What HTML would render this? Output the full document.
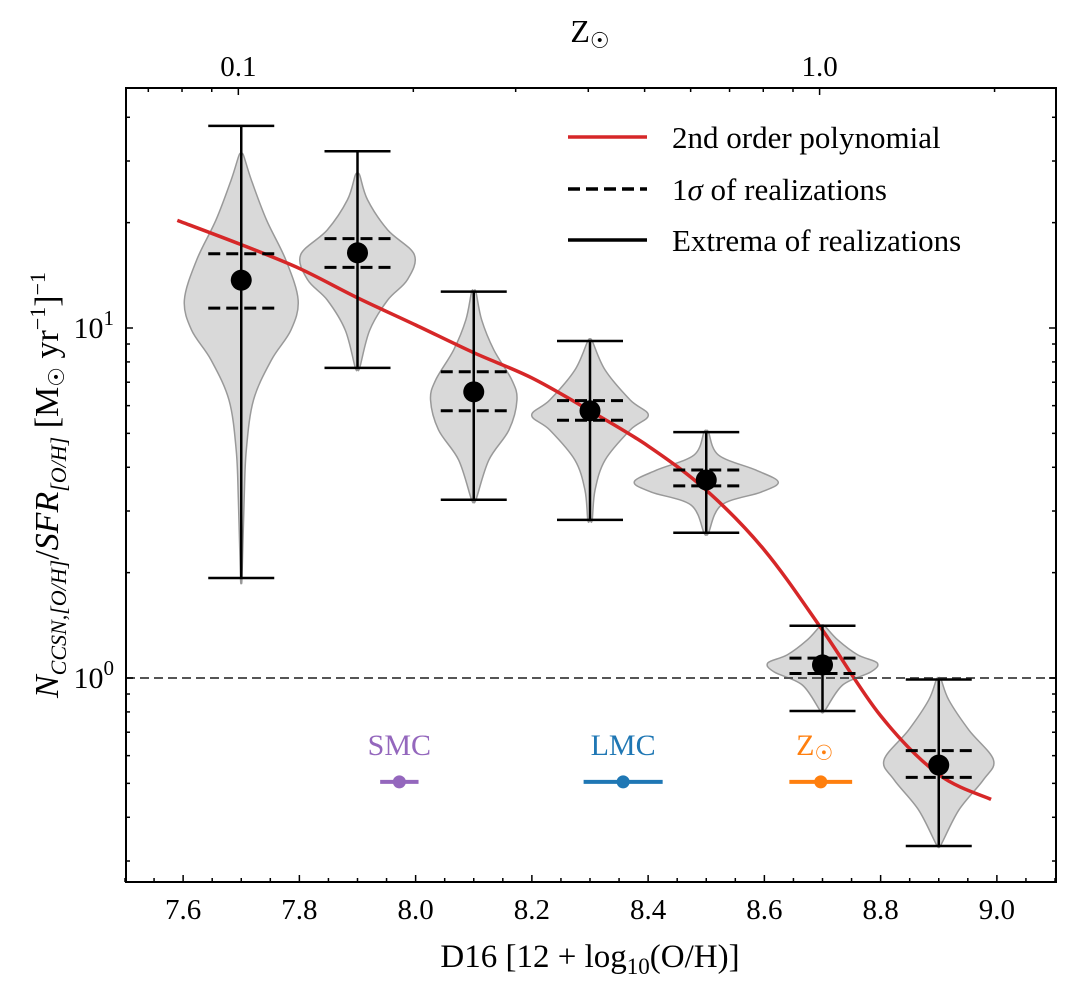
<!DOCTYPE html>
<html><head><meta charset="utf-8"><style>
html,body{margin:0;padding:0;background:#fff;}
svg{display:block;font-family:"Liberation Serif",serif;}
</style></head><body>
<svg id="chart" width="1071" height="987" viewBox="0 0 1071 987" xmlns="http://www.w3.org/2000/svg">
<g id="violins"></g>
<g id="curve"></g>
<g id="errs"></g>
<g id="refs"></g>
<g id="axes"></g>
<g>
  <line x1="568" y1="137" x2="647" y2="137" stroke="#d62728" stroke-width="3.5"/>
  <text x="672" y="148" font-size="31">2nd order polynomial</text>
  <line x1="568" y1="189" x2="647" y2="189" stroke="#000" stroke-width="3.5" stroke-dasharray="12,6"/>
  <text x="672" y="200" font-size="31">1<tspan font-style="italic">σ</tspan> of realizations</text>
  <line x1="568" y1="240" x2="647" y2="240" stroke="#000" stroke-width="3.5"/>
  <text x="672" y="251" font-size="31">Extrema of realizations</text>
</g>
<text x="590" y="967" font-size="33" text-anchor="middle">D16 [12 + log<tspan font-size="23" dy="7">10</tspan><tspan dy="-7">(O/H)]</tspan></text>
<text x="590" y="42" font-size="32" text-anchor="middle">Z<tspan font-size="22" dy="6">☉</tspan></text>
<text transform="translate(58,485) rotate(-90)" font-size="34" text-anchor="middle"><tspan font-style="italic">N</tspan><tspan font-size="22" dy="8" font-style="italic">CCSN,[O/H]</tspan><tspan dy="-8">/</tspan><tspan font-style="italic">SFR</tspan><tspan font-size="22" dy="8" font-style="italic">[O/H]</tspan><tspan dy="-8"> [M</tspan><tspan font-size="22" dy="6">☉</tspan><tspan dy="-6"> yr</tspan><tspan font-size="22" dy="-13">−1</tspan><tspan dy="13">]</tspan><tspan font-size="22" dy="-13">−1</tspan></text>
</svg>
<script>
const xs = [7.7, 7.9, 8.1, 8.3, 8.5, 8.7, 8.9];
const means = [13.7, 16.4, 6.57, 5.8, 3.68, 1.09, 0.564];
const extMax = [37.8, 32, 12.7, 9.18, 5.04, 1.41, 0.99];
const extMin = [1.93, 7.69, 3.23, 2.83, 2.6, 0.805, 0.331];
const sigHi = [16.3, 18, 7.5, 6.2, 3.93, 1.14, 0.62];
const sigLo = [11.4, 14.9, 5.8, 5.45, 3.54, 1.03, 0.52];
const violinLog = [
 [1.494,1.423,1.309,1.194,1.08,0.994,0.909,0.794,0.651,0.509,0.286],
 [1.437,1.366,1.28,1.209,1.137,1.08,0.994,0.886],
 [1.103,1.023,0.937,0.851,0.794,0.709,0.623,0.509],
 [0.963,0.88,0.794,0.751,0.709,0.623,0.537,0.451],
 [0.703,0.637,0.594,0.56,0.531,0.494,0.414],
 [0.149,0.109,0.066,0.043,0.017,-0.02,-0.094],
 [-0.003,-0.063,-0.149,-0.234,-0.291,-0.377,-0.477]];
const violinDens = [
 [0.03,0.14,0.35,0.62,0.79,0.69,0.42,0.17,0.07,0.04,0.01],
 [0.03,0.14,0.42,0.79,0.69,0.42,0.17,0.03],
 [0.03,0.11,0.28,0.53,0.6,0.49,0.21,0.03],
 [0.03,0.21,0.56,0.81,0.56,0.21,0.07,0.03],
 [0.03,0.17,0.69,1.0,0.76,0.21,0.03],
 [0.03,0.21,0.49,0.76,0.67,0.28,0.03],
 [0.03,0.14,0.42,0.76,0.62,0.28,0.03]];
const curveX = [7.59,7.7,7.8,7.9,8.0,8.1,8.2,8.3,8.4,8.5,8.6,8.7,8.8,8.9,8.99];
const curveY = [20.3,17.3,14.8,12.2,10.2,8.5,7.2,5.8,4.6,3.44,2.32,1.37,0.78,0.53,0.45];
const refNames = ["SMC","LMC","Z☉"];
const refX = [7.972, 8.357, 8.697];
const refErr = [0.033, 0.068, 0.054];
const refY = [0.505, 0.505, 0.505];
const refColors = ["#9467bd","#1f77b4","#ff7f0e"];
const xTicks = [7.6,7.8,8.0,8.2,8.4,8.6,8.8,9.0];
const xTickLabels = ["7.6","7.8","8.0","8.2","8.4","8.6","8.8","9.0"];
const zTicks = [0.1, 1.0];
const zTickLabels = ["0.1","1.0"];

const L=126,R=1056,T=88,B=882;
const X0=7.5,X1=9.1;
const sx=v=>L-1+(v-X0)/(X1-X0)*(R-L);
const sy=v=>678-Math.log10(v)*350;
const syl=l=>678-l*350;
const zx=z=>sx(8.695+Math.log10(z));
const NS="http://www.w3.org/2000/svg";
function mk(tag,attrs,parent){const e=document.createElementNS(NS,tag);for(const k in attrs)e.setAttribute(k,attrs[k]);parent.appendChild(e);return e;}
function smooth(pts){let d="M"+pts[0][0]+","+pts[0][1];
 for(let k=0;k<pts.length-1;k++){const p0=pts[Math.max(0,k-1)],p1=pts[k],p2=pts[k+1],p3=pts[Math.min(pts.length-1,k+2)];
   d+=` C${p1[0]+(p2[0]-p0[0])/6},${p1[1]+(p2[1]-p0[1])/6} ${p2[0]-(p3[0]-p1[0])/6},${p2[1]-(p3[1]-p1[1])/6} ${p2[0]},${p2[1]}`;}
 return d;}
const gV=document.getElementById('violins'),gC=document.getElementById('curve'),gE=document.getElementById('errs'),gR=document.getElementById('refs'),gA=document.getElementById('axes');

xs.forEach((x,i)=>{
  const cx=sx(x);const lv=violinLog[i],dn=violinDens[i];
  const rp=lv.map((l,j)=>[cx+dn[j]*72,syl(l)]);
  const lp=lv.map((l,j)=>[cx-dn[j]*72,syl(l)]).reverse();
  const pts=[[cx,syl(lv[0])],...rp,[cx,syl(lv[lv.length-1])],...lp,[cx,syl(lv[0])]];
  const p=mk('path',{d:smooth(pts)+"Z",fill:"#d9d9d9",stroke:"#999",'stroke-width':1.5},gV);
  
  
});

{const pts=curveX.map((x,i)=>[sx(x),sy(curveY[i])]);
 const c=mk('path',{d:smooth(pts),fill:"none",stroke:"#d62728",'stroke-width':3.5},gC);
 
 
}
{const u=mk('line',{x1:L,x2:R,y1:sy(1),y2:sy(1),stroke:"#555",'stroke-width':2,'stroke-dasharray':"9,5"},gC);
 
 }

xs.forEach((x,i)=>{
  const cx=sx(x);
  const g=mk('g',{},gE);
  
  
  mk('line',{x1:cx,x2:cx,y1:sy(extMax[i]),y2:sy(extMin[i]),stroke:"#000",'stroke-width':2.5},g);
  [extMax[i],extMin[i]].forEach(v=>mk('line',{x1:cx-33,x2:cx+33,y1:sy(v),y2:sy(v),stroke:"#000",'stroke-width':2.5},g));
  [sigHi[i],sigLo[i]].forEach(v=>mk('line',{x1:cx-33,x2:cx+33,y1:sy(v),y2:sy(v),stroke:"#000",'stroke-width':3,'stroke-dasharray':"12,6"},g));
  const m=mk('circle',{cx:cx,cy:sy(means[i]),r:10.5,fill:"#000"},gE);
  
  
});

refNames.forEach((n,i)=>{
  const g=mk('g',{},gR);
  
  
  const y=sy(refY[i]);
  mk('line',{x1:sx(refX[i]-refErr[i]),x2:sx(refX[i]+refErr[i]),y1:y,y2:y,stroke:refColors[i],'stroke-width':4},g);
  mk('circle',{cx:sx(refX[i]),cy:y,r:6.5,fill:refColors[i]},g);
  const t=mk('text',{x:sx(refX[i])+(i==2?-6:0),y:y-27,'font-size':30,'text-anchor':'middle',fill:refColors[i]},g);
  if(i==2){t.textContent="Z";const s=mk('tspan',{'font-size':21,dy:5},t);s.textContent="☉";}
  else t.textContent=n;
});

mk('rect',{x:L,y:T,width:R-L,height:B-T,fill:"none",stroke:"#000",'stroke-width':2},gA);
for(let v=7.5;v<=9.1001;v+=0.05){const x=sx(v);const major=xTicks.some(t=>Math.abs(t-v)<1e-6);const len=major?7:4;
  mk('line',{x1:x,x2:x,y1:B,y2:B-len,stroke:"#000",'stroke-width':1.5},gA);}
xTicks.forEach((v,i)=>{const t=mk('text',{x:sx(v),y:919,'font-size':29,'text-anchor':'middle'},gA);t.textContent=xTickLabels[i];
  
  });
[0.07,0.08,0.09,0.1,0.2,0.3,0.4,0.5,0.6,0.7,0.8,0.9,1,2].forEach(z=>{const x=zx(z);if(x<L||x>R)return;const major=zTicks.includes(z);
  mk('line',{x1:x,x2:x,y1:T,y2:T+(major?7:4),stroke:"#000",'stroke-width':1.5},gA);});
zTicks.forEach((z,i)=>{const t=mk('text',{x:zx(z),y:76,'font-size':29,'text-anchor':'middle'},gA);t.textContent=zTickLabels[i];
  
  });
for(let dec=-1;dec<=1;dec++)for(let k=1;k<10;k++){const v=k*Math.pow(10,dec);const y=sy(v);if(y<T||y>B)continue;const len=k==1?7:4;
  mk('line',{x1:L,x2:L+len,y1:y,y2:y,stroke:"#000",'stroke-width':1.5},gA);
  mk('line',{x1:R,x2:R-len,y1:y,y2:y,stroke:"#000",'stroke-width':1.5},gA);}
[[0,"0"],[1,"1"]].forEach(([e,s])=>{const t=mk('text',{x:114,y:sy(Math.pow(10,e))+10,'font-size':30,'text-anchor':'end'},gA);
  t.textContent="10";const sp=mk('tspan',{'font-size':21,dy:-13},t);sp.textContent=s;
  
  });
</script>
</body></html>
